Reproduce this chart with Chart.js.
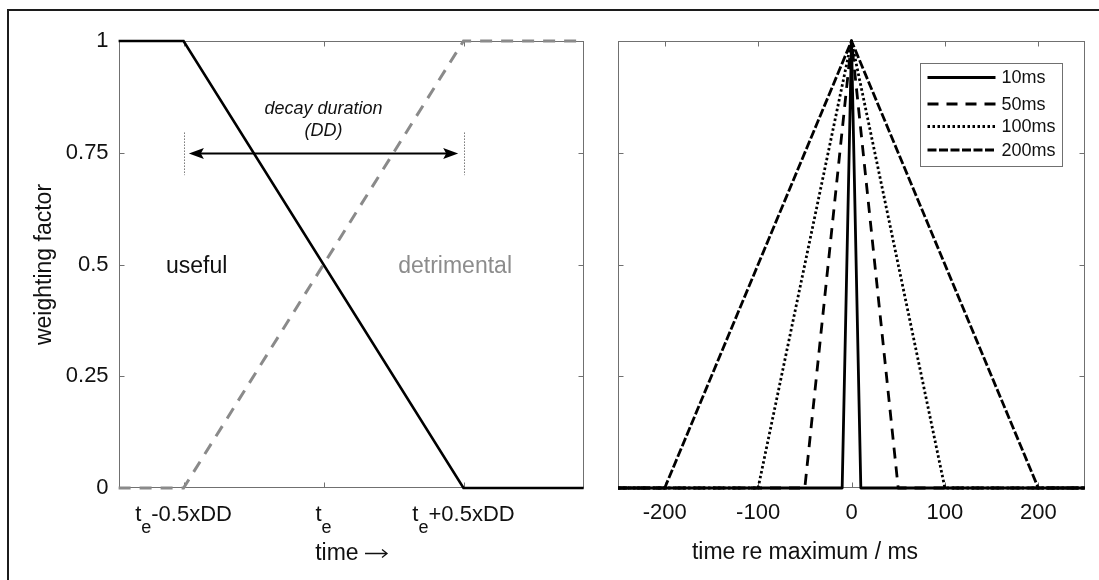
<!DOCTYPE html>
<html>
<head>
<meta charset="utf-8">
<script src="https://cdn.jsdelivr.net/npm/chart.js@4.4.1/dist/chart.umd.min.js"></script>
<style>
  html, body { margin: 0; padding: 0; background: #fff; }
  #wrap { position: relative; width: 1099px; height: 580px; overflow: hidden; background: #fff; }
  #frame { position: absolute; left: 7px; top: 9px; width: 1200px; height: 700px;
           border-top: 2.5px solid #1c1c1c; border-left: 2.5px solid #1c1c1c; box-sizing: border-box; }
  #c1 { position: absolute; left: 0; top: 0; }
  #c2 { position: absolute; left: 600px; top: 0; }
</style>
</head>
<body>
<div id="wrap">
  <div id="frame"></div>
  <canvas id="c1" width="600" height="580"></canvas>
  <canvas id="c2" width="499" height="580"></canvas>
</div>
<script>
// ---------- data: left panel ----------
const leftTime = [-0.732, -0.5, 0.5, 0.929];
const usefulWeight = [1, 1, 0, 0];
const detrimentalWeight = [0, 0, 1, 1];
const leftXTicks = [-0.5, 0, 0.5];
const leftXTickBase = ['t', 't', 't'];
const leftXTickSub = ['e', 'e', 'e'];
const leftXTickRest = ['-0.5xDD', '', '+0.5xDD'];
const yTicks = [0, 0.25, 0.5, 0.75, 1];
const yTickLabels = ['0', '0.25', '0.5', '0.75', '1'];

// ---------- data: right panel ----------
const durationLabels = ['10ms', '50ms', '100ms', '200ms'];
const time10 = [-250, -10, 0, 10, 250];
const time50 = [-250, -50, 0, 50, 250];
const time100 = [-250, -100, 0, 100, 250];
const time200 = [-250, -200, 0, 200, 250];
const triWeight = [0, 0, 1, 0, 0];
const rightXTicks = [-200, -100, 0, 100, 200];
const rightXTickLabels = ['-200', '-100', '0', '100', '200'];

const FONT = '"Liberation Sans", Arial, Helvetica, sans-serif';
const pts = (xs, ys) => xs.map((x, i) => ({ x: x, y: ys[i] }));

// ---------- plugin: axes box + inward ticks ----------
const boxTicks = {
  id: 'boxTicks',
  beforeDatasetsDraw(chart, args, opts) {
    const { ctx, chartArea: a, scales: { x, y } } = chart;
    const L = Math.round(a.left) + 0.5, R = Math.round(a.right) - 0.5;
    const T = Math.round(a.top) + 0.5, B = Math.round(a.bottom) - 0.5;
    ctx.save();
    ctx.strokeStyle = '#707070';
    ctx.lineWidth = 1;
    ctx.strokeRect(L, T, R - L, B - T);
    ctx.beginPath();
    (opts.xTicks || []).forEach(v => {
      const px = Math.round(x.getPixelForValue(v)) + 0.5;
      ctx.moveTo(px, B); ctx.lineTo(px, B - 5);
      ctx.moveTo(px, T); ctx.lineTo(px, T + 5);
    });
    (opts.yTicks || []).forEach(v => {
      const py = Math.round(y.getPixelForValue(v)) + 0.5;
      ctx.moveTo(L, py); ctx.lineTo(L + 5, py);
      ctx.moveTo(R, py); ctx.lineTo(R - 5, py);
    });
    ctx.stroke();
    ctx.restore();
  }
};

// ---------- plugin: left annotations + subscript tick labels + x title ----------
const leftDecor = {
  id: 'leftDecor',
  afterDatasetsDraw(chart) {
    const { ctx, chartArea: a, scales: { x, y } } = chart;
    ctx.save();
    // tick labels with subscript e
    leftXTicks.forEach((v, i) => {
      const px = x.getPixelForValue(v);
      ctx.font = '22px ' + FONT;
      const wB = ctx.measureText(leftXTickBase[i]).width;
      const wR = ctx.measureText(leftXTickRest[i]).width;
      ctx.font = '18px ' + FONT;
      const wS = ctx.measureText(leftXTickSub[i]).width;
      let sx = px - (wB + wS + wR) / 2;
      const base = a.bottom + 32.5;
      ctx.fillStyle = '#111';
      ctx.textBaseline = 'alphabetic';
      ctx.textAlign = 'left';
      ctx.font = '22px ' + FONT;
      ctx.fillText(leftXTickBase[i], sx, base);
      sx += wB;
      ctx.font = '18px ' + FONT;
      ctx.fillText(leftXTickSub[i], sx, base + 12);
      sx += wS;
      ctx.font = '22px ' + FONT;
      ctx.fillText(leftXTickRest[i], sx, base);
    });

    // x title "time ->" with a drawn arrow glyph
    ctx.font = '23px ' + FONT;
    ctx.textBaseline = 'alphabetic';
    ctx.textAlign = 'left';
    const word = 'time ';
    const ww = ctx.measureText(word).width;
    const arrowW = 22;
    const cx = (a.left + a.right) / 2;
    const tx = cx - (ww + arrowW) / 2;
    const tb = 560;
    ctx.fillStyle = '#111';
    ctx.fillText(word, tx, tb);
    const ax0 = tx + ww, ax1 = ax0 + arrowW, ayT = tb - 6.5;
    ctx.strokeStyle = '#111';
    ctx.lineWidth = 1.3;
    ctx.beginPath();
    ctx.moveTo(ax0, ayT); ctx.lineTo(ax1, ayT);
    ctx.moveTo(ax1 - 5, ayT - 4); ctx.lineTo(ax1, ayT); ctx.lineTo(ax1 - 5, ayT + 4);
    ctx.stroke();

    // dotted markers
    ctx.strokeStyle = '#333';
    ctx.lineWidth = 1;
    ctx.setLineDash([1, 2]);
    ctx.beginPath();
    [-0.5, 0.5].forEach(v => {
      const px = Math.round(x.getPixelForValue(v)) + 0.5;
      ctx.moveTo(px, y.getPixelForValue(0.795));
      ctx.lineTo(px, y.getPixelForValue(0.70));
    });
    ctx.stroke();
    ctx.setLineDash([]);

    // double arrow
    const ay = Math.round(y.getPixelForValue(0.75)) + 0.5;
    const x1 = x.getPixelForValue(-0.481), x2 = x.getPixelForValue(0.481);
    ctx.strokeStyle = '#000';
    ctx.fillStyle = '#000';
    ctx.lineWidth = 2;
    ctx.beginPath();
    ctx.moveTo(x1 + 8, ay); ctx.lineTo(x2 - 8, ay);
    ctx.stroke();
    ctx.beginPath();
    ctx.moveTo(x1, ay); ctx.lineTo(x1 + 15, ay - 5.5); ctx.lineTo(x1 + 12, ay); ctx.lineTo(x1 + 15, ay + 5.5); ctx.closePath();
    ctx.fill();
    ctx.beginPath();
    ctx.moveTo(x2, ay); ctx.lineTo(x2 - 15, ay - 5.5); ctx.lineTo(x2 - 12, ay); ctx.lineTo(x2 - 15, ay + 5.5); ctx.closePath();
    ctx.fill();

    // texts
    ctx.textAlign = 'center';
    ctx.textBaseline = 'middle';
    ctx.fillStyle = '#111';
    ctx.font = 'italic 18px ' + FONT;
    ctx.fillText('decay duration', x.getPixelForValue(0), y.getPixelForValue(0.848));
    ctx.fillText('(DD)', x.getPixelForValue(0), y.getPixelForValue(0.798));
    ctx.font = '23px ' + FONT;
    ctx.fillText('useful', x.getPixelForValue(-0.453), y.getPixelForValue(0.495));
    ctx.fillStyle = '#8c8c8c';
    ctx.fillText('detrimental', x.getPixelForValue(0.47), y.getPixelForValue(0.495));
    ctx.restore();
  }
};

// ---------- plugin: right legend + title ----------
const rightDecor = {
  id: 'rightDecor',
  afterDatasetsDraw(chart) {
    const { ctx, chartArea: a } = chart;
    ctx.save();
    // title
    ctx.fillStyle = '#111';
    ctx.font = '23px ' + FONT;
    ctx.textAlign = 'center';
    ctx.textBaseline = 'middle';
    ctx.fillText('time re maximum / ms', a.left + 187, 553);
    // legend
    const bx = a.left + 302.5, by = a.top + 22.5, bw = 142, bh = 103;
    ctx.fillStyle = '#fff';
    ctx.fillRect(bx, by, bw, bh);
    ctx.strokeStyle = '#707070';
    ctx.lineWidth = 1;
    ctx.strokeRect(bx, by, bw, bh);
    const rows = [14, 40.5, 63, 86.5];
    chart.data.datasets.forEach((ds, i) => {
      const ry = by + rows[i];
      ctx.strokeStyle = ds.borderColor;
      ctx.lineWidth = ds.borderWidth;
      ctx.setLineDash(ds.borderDash || []);
      ctx.beginPath();
      ctx.moveTo(bx + 7, ry); ctx.lineTo(bx + 75, ry);
      ctx.stroke();
      ctx.setLineDash([]);
      ctx.fillStyle = '#111';
      ctx.font = '18px ' + FONT;
      ctx.textAlign = 'left';
      ctx.textBaseline = 'middle';
      ctx.fillText(ds.label, bx + 81, ry + 1);
    });
    ctx.restore();
  }
};

// ---------- left chart ----------
new Chart(document.getElementById('c1'), {
  type: 'line',
  data: {
    datasets: [
      { label: 'useful', data: pts(leftTime, usefulWeight), borderColor: '#000', borderWidth: 2.6,
        pointRadius: 0, tension: 0, clip: false },
      { label: 'detrimental', data: pts(leftTime, detrimentalWeight), borderColor: '#8a8a8a', borderWidth: 3,
        borderDash: [12, 9], pointRadius: 0, tension: 0, clip: false }
    ]
  },
  options: {
    responsive: false,
    animation: false,
    events: [],
    layout: { padding: { left: 0, right: 16.4, top: 41, bottom: 0 } },
    plugins: { legend: { display: false }, tooltip: { enabled: false },
               boxTicks: { xTicks: leftXTicks, yTicks: yTicks } },
    scales: {
      x: {
        type: 'linear', min: leftTime[0], max: leftTime[leftTime.length - 1],
        afterBuildTicks: s => { s.ticks = leftXTicks.map(v => ({ value: v })); },
        ticks: { display: false },
        grid: { display: false, drawTicks: false },
        border: { display: false },
        afterFit: s => { s.height = 92; }
      },
      y: {
        type: 'linear', min: 0, max: 1,
        afterBuildTicks: s => { s.ticks = yTicks.map(v => ({ value: v })); },
        ticks: { callback: (v, i) => yTickLabels[i], color: '#111', padding: 10,
                 font: { family: FONT, size: 22 } },
        grid: { display: false, drawTicks: false },
        border: { display: false },
        title: { display: true, text: 'weighting factor', color: '#111',
                 font: { family: FONT, size: 23 }, padding: { top: 31, bottom: 0 } },
        afterFit: s => { s.width = 118.6; }
      }
    }
  },
  plugins: [boxTicks, leftDecor]
});

// ---------- right chart ----------
new Chart(document.getElementById('c2'), {
  type: 'line',
  data: {
    datasets: [
      { label: durationLabels[0], data: pts(time10, triWeight), borderColor: '#000', borderWidth: 2.8,
        borderJoinStyle: 'round', pointRadius: 0, tension: 0, clip: false },
      { label: durationLabels[1], data: pts(time50, triWeight), borderColor: '#000', borderWidth: 2.8,
        borderJoinStyle: 'round', borderDash: [11, 8], pointRadius: 0, tension: 0, clip: false },
      { label: durationLabels[2], data: pts(time100, triWeight), borderColor: '#000', borderWidth: 2.8,
        borderJoinStyle: 'round', borderDash: [2.5, 2.5], pointRadius: 0, tension: 0, clip: false },
      { label: durationLabels[3], data: pts(time200, triWeight), borderColor: '#000', borderWidth: 2.8,
        borderJoinStyle: 'round', borderDash: [9, 2.5], pointRadius: 0, tension: 0, clip: false }
    ]
  },
  options: {
    responsive: false,
    animation: false,
    events: [],
    layout: { padding: { left: 0, right: 14, top: 41, bottom: 0 } },
    plugins: { legend: { display: false }, tooltip: { enabled: false },
               boxTicks: { xTicks: rightXTicks, yTicks: yTicks } },
    scales: {
      x: {
        type: 'linear', min: -250, max: 250,
        afterBuildTicks: s => { s.ticks = rightXTicks.map(v => ({ value: v })); },
        ticks: { callback: (v, i) => rightXTickLabels[i], color: '#111', padding: 12, maxRotation: 0,
                 autoSkip: false, font: { family: FONT, size: 22 } },
        grid: { display: false, drawTicks: false },
        border: { display: false },
        afterFit: s => { s.height = 92; }
      },
      y: {
        type: 'linear', min: 0, max: 1,
        afterBuildTicks: s => { s.ticks = yTicks.map(v => ({ value: v })); },
        ticks: { display: false },
        grid: { display: false, drawTicks: false },
        border: { display: false },
        afterFit: s => { s.width = 18; }
      }
    }
  },
  plugins: [boxTicks, rightDecor]
});
</script>
</body>
</html>
